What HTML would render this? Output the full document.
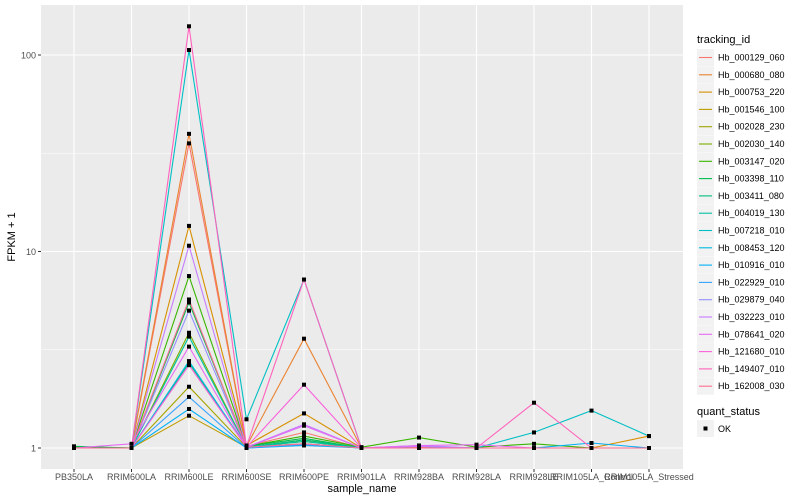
<!DOCTYPE html>
<html><head><meta charset="utf-8"><style>
body{margin:0;background:#fff;}
svg{display:block;font-family:"Liberation Sans",sans-serif;}
</style></head><body>
<svg id="chart" width="800" height="500">
<rect x="41" y="5" width="642" height="464" fill="#EBEBEB"/>
<g id="grid"></g><g id="series"></g><g id="points"></g><g id="axes"></g><g id="legend"></g>
</svg>
<script>
const categories=["PB350LA","RRIM600LA","RRIM600LE","RRIM600SE","RRIM600PE","RRIM901LA","RRIM928BA","RRIM928LA","RRIM928LE","RRIM105LA_Control","RRIM105LA_Stressed"];
const seriesNames=["Hb_000129_060","Hb_000680_080","Hb_000753_220","Hb_001546_100","Hb_002028_230","Hb_002030_140","Hb_003147_020","Hb_003398_110","Hb_003411_080","Hb_004019_130","Hb_007218_010","Hb_008453_120","Hb_010916_010","Hb_022929_010","Hb_029879_040","Hb_032223_010","Hb_078641_020","Hb_121680_010","Hb_149407_010","Hb_162008_030"];
const colors=["#F8766D","#EA8331","#D89000","#C09B00","#A3A500","#7CAE00","#39B600","#00BB4E","#00BF7D","#00C1A3","#00BFC4","#00BAE0","#00B0F6","#35A2FF","#9590FF","#C77CFF","#E76BF3","#FA62DB","#FF62BC","#FF6C91"];
const s000129=[1,1,35.5,1.02,1.2,1,1.01,1,1,1,1];
const s000680=[1,1,39.7,1.02,3.6,1,1,1,1,1,1];
const s000753=[1,1,13.5,1.03,1.5,1,1,1,1,1,1.15];
const s001546=[1,1,1.46,1.01,1.05,1,1,1,1,1,1];
const s002028=[1,1,2.05,1.01,1.08,1,1,1,1,1,1];
const s002030=[1,1,3.86,1.01,1.1,1,1,1,1,1,1];
const s003147=[1.01,1,7.5,1.02,1.15,1.01,1.13,1.01,1.05,1,1];
const s003398=[1.02,1,5.5,1.02,1.12,1,1,1,1,1,1];
const s003411=[1,1,2.71,1.01,1.1,1,1,1,1,1,1];
const s004019=[1,1,3.69,1.01,1.08,1,1,1,1,1,1];
const s007218=[1,1,106,1.4,7.2,1,1.02,1,1.2,1.55,1.15];
const s008453=[1,1,2.77,1.01,1.05,1,1,1,1,1,1];
const s010916=[1,1,1.58,1,1.03,1,1,1,1,1.06,1];
const s022929=[1,1,1.82,1,1.04,1,1,1,1,1,1];
const s029879=[1,1,5.0,1.01,1.3,1,1.03,1,1,1,1];
const s032223=[1,1,10.7,1.01,1.32,1,1.02,1,1,1,1];
const s078641=[1,1.05,3.28,1.01,1.3,1,1.03,1.04,1,1,1];
const s121680=[1,1,2.64,1.01,2.1,1,1,1,1,1,1];
const s149407=[1,1,140,1.02,7.2,1,1,1,1.7,1,1];
const s162008=[1,1,5.7,1.01,1.05,1,1,1,1,1,1];
const seriesValues=[s000129,s000680,s000753,s001546,s002028,s002030,s003147,s003398,s003411,s004019,s007218,s008453,s010916,s022929,s029879,s032223,s078641,s121680,s149407,s162008];
const yTicks=[1,10,100];
const yMinor=[Math.sqrt(10),Math.sqrt(1000)];

const NS="http://www.w3.org/2000/svg";
const X0=74,DX=57.5,Y1=448,PX=196.5;
const xs=i=>X0+i*DX;
const ys=v=>Y1-Math.log10(v)*PX;
function mk(tag,attrs,parent,text){const e=document.createElementNS(NS,tag);for(const k in attrs)e.setAttribute(k,attrs[k]);if(text!=null)e.textContent=text;parent.appendChild(e);return e;}
const grid=document.getElementById('grid'),ser=document.getElementById('series'),pts=document.getElementById('points'),ax=document.getElementById('axes'),lg=document.getElementById('legend');
yMinor.forEach(v=>{const l=mk('line',{x1:41,x2:683,y1:ys(v),y2:ys(v),stroke:'#fff','stroke-width':0.5},grid);

});
yTicks.forEach(v=>{const l=mk('line',{x1:41,x2:683,y1:ys(v),y2:ys(v),stroke:'#fff','stroke-width':1.1},grid);


const t=mk('text',{x:36,y:ys(v)+3.5,'text-anchor':'end','font-size':9,fill:'#4D4D4D'},ax,String(v));


mk('line',{x1:38,x2:41,y1:ys(v),y2:ys(v),stroke:'#333'},ax);});
categories.forEach((c,i)=>{const l=mk('line',{x1:xs(i),x2:xs(i),y1:5,y2:469,stroke:'#fff','stroke-width':1.1},grid);


mk('line',{x1:xs(i),x2:xs(i),y1:469,y2:472,stroke:'#333'},ax);
const t=mk('text',{x:xs(i),y:480,'text-anchor':'middle','font-size':9,fill:'#4D4D4D'},ax,c);

});
seriesValues.forEach((vals,s)=>{const d=vals.map((v,i)=>(i?'L':'M')+xs(i).toFixed(1)+','+ys(v).toFixed(1)).join('');
const p=mk('path',{d:d,fill:'none',stroke:colors[s],'stroke-width':1.1},ser);


vals.forEach((v,i)=>{const r=mk('rect',{x:xs(i)-2,y:ys(v)-2,width:4,height:4,fill:'#000'},pts);

});});
let t=mk('text',{x:362,y:492,'text-anchor':'middle','font-size':11,fill:'#000'},ax,'sample_name');


t=mk('text',{x:0,y:0,transform:'translate(15,237) rotate(-90)','text-anchor':'middle','font-size':11,fill:'#000'},ax,'FPKM + 1');


t=mk('text',{x:697,y:43,'font-size':11,fill:'#000'},lg,'tracking_id');


seriesNames.forEach((n,s)=>{const y=49+s*17.3;
const g=mk('g',{},lg);


mk('rect',{x:697,y:y,width:17,height:17,fill:'#F2F2F2'},g);
mk('line',{x1:699,x2:712,y1:y+8.5,y2:y+8.5,stroke:colors[s],'stroke-width':1.1},g);
mk('text',{x:718,y:y+11.5,'font-size':9,fill:'#000'},g,n);});
t=mk('text',{x:697,y:415,'font-size':11,fill:'#000'},lg,'quant_status');


const g2=mk('g',{},lg);


mk('rect',{x:697,y:420,width:17,height:17,fill:'#F2F2F2'},g2);
mk('rect',{x:703.5,y:426.5,width:4,height:4,fill:'#000'},g2);
mk('text',{x:718,y:432,'font-size':9,fill:'#000'},g2,'OK');
</script>
</body></html>
